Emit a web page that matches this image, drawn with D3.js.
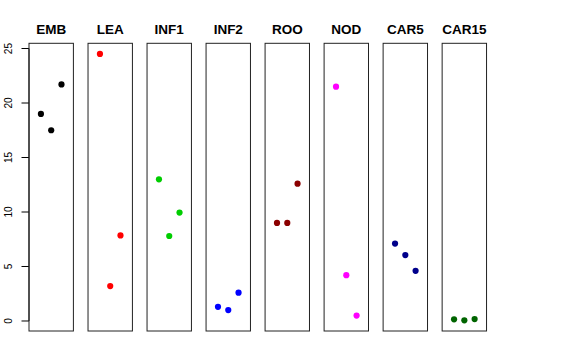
<!DOCTYPE html>
<html>
<head>
<meta charset="utf-8">
<style>
body { margin: 0; background: #fff; }
text { font-family: "Liberation Sans", Arial, sans-serif; }
</style>
</head>
<body>
<div id="chart"></div>
<script src="https://d3js.org/d3.v7.min.js"></script>
<script>
// tissues and their colours
const tissues = ["EMB", "LEA", "INF1", "INF2", "ROO", "NOD", "CAR5", "CAR15"];
const colors = ["#000000", "#ff0000", "#00cd00", "#0000ff", "#8b0000", "#ff00ff", "#00008b", "#006400"];
// three replicate values per tissue
const values = [
  [19.0, 17.5, 21.7],
  [24.5, 3.2, 7.85],
  [13.0, 7.8, 9.95],
  [1.3, 1.0, 2.6],
  [9.0, 9.0, 12.6],
  [21.5, 4.2, 0.5],
  [7.1, 6.05, 4.6],
  [0.15, 0.06, 0.18]
];
const yTicks = [0, 5, 10, 15, 20, 25];

const width = 576, height = 360;
const svg = d3.select("#chart").append("svg")
  .attr("width", width)
  .attr("height", height);

const plotTop = 43.3, plotBottom = 331;
const panelW = 44.4, step = 59.02, left0 = 29;

// y domain like R: data range plus 4%
const all = values.flat();
const [lo, hi] = d3.extent(all);
const pad = (hi - lo) * 0.04;
const y = d3.scaleLinear().domain([lo - pad, hi + pad]).range([plotBottom, plotTop]);

// y axis on the first panel
const axis = svg.append("g");
axis.append("line")
  .attr("x1", left0).attr("x2", left0)
  .attr("y1", y(0)).attr("y2", y(25))
  .attr("stroke", "#000");
axis.selectAll("line.tick")
  .data(yTicks)
  .join("line")
  .attr("class", "tick")
  .attr("x1", left0 - 7.5).attr("x2", left0)
  .attr("y1", d => y(d)).attr("y2", d => y(d))
  .attr("stroke", "#000");
axis.selectAll("text")
  .data(yTicks)
  .join("text")
  .attr("transform", d => `translate(11.5,${y(d)}) rotate(-90) scale(0.88,1)`)
  .attr("text-anchor", "middle")
  .attr("font-size", 11.5)
  .attr("fill", "#000")
  .text(d => d);

tissues.forEach((t, i) => {
  const x0 = left0 + i * step;
  const x = d3.scaleLinear().domain([-0.16, 4.16]).range([x0, x0 + panelW]);
  const g = svg.append("g");

  g.append("rect")
    .attr("x", x0).attr("y", plotTop)
    .attr("width", panelW).attr("height", plotBottom - plotTop)
    .attr("fill", "none")
    .attr("stroke", "#222")
    .attr("stroke-width", 1);

  g.append("text")
    .attr("x", x0 + panelW / 2)
    .attr("y", 34.3)
    .attr("text-anchor", "middle")
    .attr("font-size", 13.5)
    .attr("font-weight", "bold")
    .text(t);

  g.selectAll("circle")
    .data(values[i])
    .join("circle")
    .attr("cx", (d, j) => x(j + 1))
    .attr("cy", d => y(d))
    .attr("r", 3.1)
    .attr("fill", colors[i]);
});
</script>
</body>
</html>
